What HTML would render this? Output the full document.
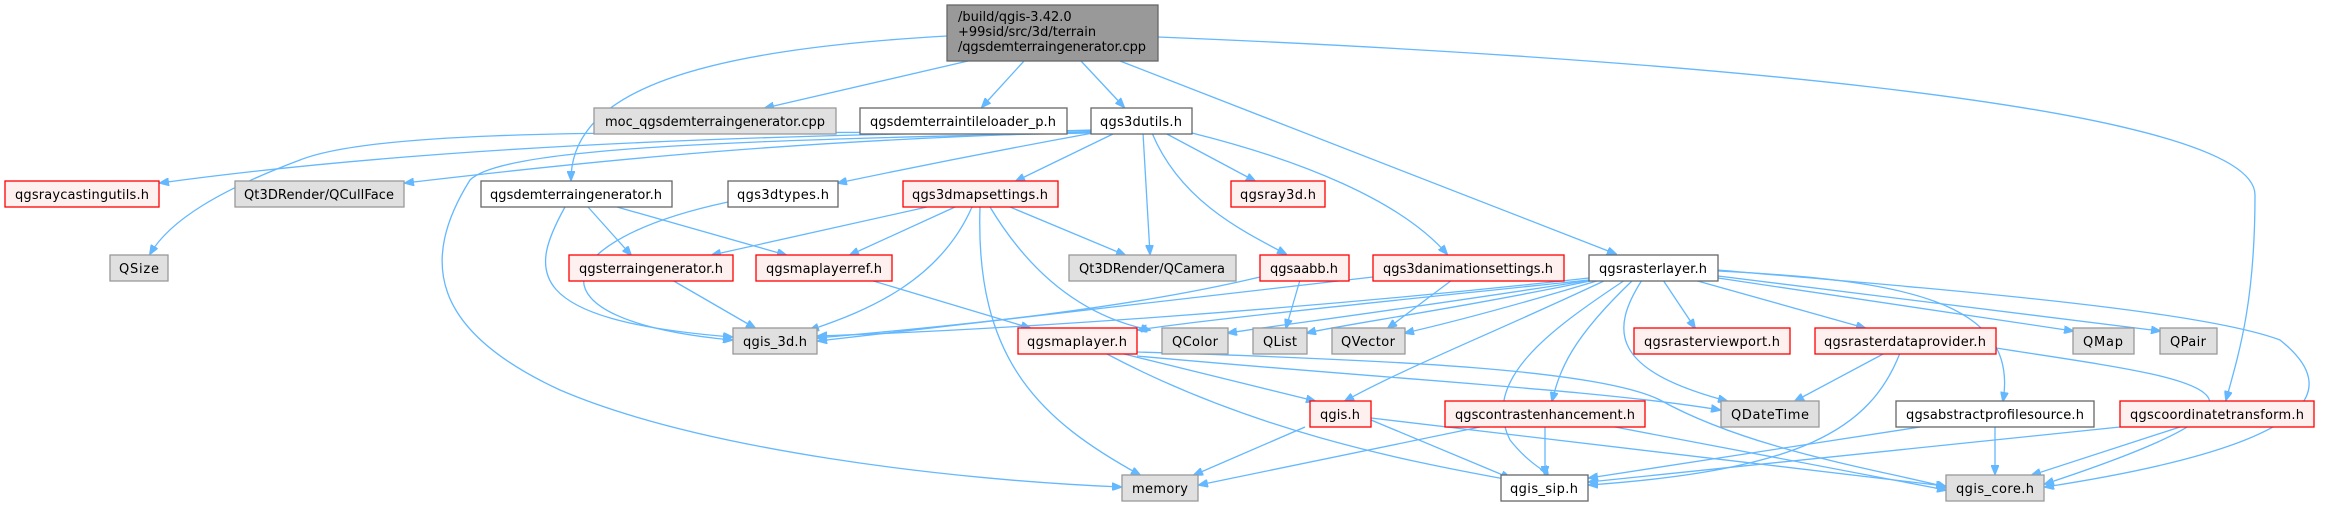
<!DOCTYPE html>
<html><head><meta charset="utf-8"><style>
html,body{margin:0;padding:0;background:#fff;}
svg{display:block;}
text{font-family:"DejaVu Sans","Liberation Sans",sans-serif;font-size:13px;fill:#000;}
.e{fill:none;stroke:#63b8ff;stroke-width:1.3;marker-end:url(#a);}
.r{fill:#fff0f0;stroke:#ff0000;stroke-width:1.3}
.g{fill:#e0e0e0;stroke:#999;stroke-width:1.3}
.w{fill:#fff;stroke:#666;stroke-width:1.3}
</style></head><body>
<svg width="2343" height="505" viewBox="0 0 2343 505" xmlns="http://www.w3.org/2000/svg">
<defs><marker id="a" markerWidth="10" markerHeight="8" refX="9" refY="4" orient="auto" markerUnits="userSpaceOnUse"><path d="M0,0 L10,4 L0,8 z" fill="#63b8ff" stroke="#63b8ff"/></marker></defs>
<g>
<path class="e" d="M947,36 C700,50 571,90 571,180"/>
<path class="e" d="M968,61 L765,108"/>
<path class="e" d="M1024,61 L982,107"/>
<path class="e" d="M1081,61 L1124,107"/>
<path class="e" d="M1120,61 L1616,254"/>
<path class="e" d="M1158,37 C1600,55 2255,100 2255,195 C2255,300 2240,350 2226,400"/>
<path class="e" d="M1091,131 C700,135 400,150 160,183"/>
<path class="e" d="M1091,132 C800,140 600,160 405,183"/>
<path class="e" d="M1091,130 C800,138 400,120 300,160 C220,190 170,220 150,254"/>
<path class="e" d="M1091,133 C700,140 500,150 470,180 C420,260 430,330 560,390 C700,450 950,480 1121,487"/>
<path class="e" d="M1093,133 C1000,150 900,170 838,183"/>
<path class="e" d="M1115,133 L1016,181"/>
<path class="e" d="M1143,133 L1150,254"/>
<path class="e" d="M1165,133 L1255,181"/>
<path class="e" d="M1152,133 C1180,200 1240,230 1286,254"/>
<path class="e" d="M1192,133 C1300,160 1400,200 1447,254"/>
<path class="e" d="M588,207 L631,255"/>
<path class="e" d="M617,207 L786,255"/>
<path class="e" d="M565,207 C530,270 520,320 732,337"/>
<path class="e" d="M728,202 C550,240 520,320 732,340"/>
<path class="e" d="M927,207 L712,255"/>
<path class="e" d="M955,207 L850,255"/>
<path class="e" d="M972,207 C940,280 870,310 810,330"/>
<path class="e" d="M980,207 C975,360 1040,420 1140,475"/>
<path class="e" d="M990,207 C1040,290 1100,320 1150,330"/>
<path class="e" d="M1010,207 L1125,255"/>
<path class="e" d="M672,280 L755,328"/>
<path class="e" d="M870,280 L1030,328"/>
<path class="e" d="M1260,277 C1100,315 900,330 818,338"/>
<path class="e" d="M1300,280 L1286,328"/>
<path class="e" d="M1373,277 C1100,310 900,330 818,341"/>
<path class="e" d="M1452,280 L1388,328"/>
<path class="e" d="M1120,353 L1315,401"/>
<path class="e" d="M1105,353 C1250,430 1400,460 1510,480"/>
<path class="e" d="M1137,352 C1400,360 1600,370 1660,400 C1750,450 1880,470 1946,487"/>
<path class="e" d="M1137,356 C1400,380 1600,390 1720,410"/>
<path class="e" d="M1305,427 L1194,475"/>
<path class="e" d="M1371,420 L1510,478"/>
<path class="e" d="M1371,418 L1945,486"/>
<path class="e" d="M1480,427 L1199,485"/>
<path class="e" d="M1545,427 L1545,475"/>
<path class="e" d="M1615,427 L1946,490"/>
<path class="e" d="M1589,278 C1300,310 1000,330 818,336"/>
<path class="e" d="M1589,280 C1400,300 1200,320 1138,330"/>
<path class="e" d="M1592,280 C1400,310 1280,325 1228,333"/>
<path class="e" d="M1595,280 C1450,310 1340,325 1307,333"/>
<path class="e" d="M1600,280 C1500,310 1440,325 1405,333"/>
<path class="e" d="M1606,280 C1500,330 1400,370 1345,401"/>
<path class="e" d="M1633,280 C1570,340 1560,370 1552,401"/>
<path class="e" d="M1625,280 C1550,330 1480,380 1510,440 C1530,465 1545,470 1548,475"/>
<path class="e" d="M1642,280 C1610,330 1610,370 1727,401"/>
<path class="e" d="M1663,280 L1695,328"/>
<path class="e" d="M1694,280 L1865,328"/>
<path class="e" d="M1718,278 L2073,331"/>
<path class="e" d="M1718,276 L2160,331"/>
<path class="e" d="M1718,271 C1900,280 2020,300 2003,401"/>
<path class="e" d="M1718,270 C1950,290 2200,310 2280,340 C2330,380 2350,440 2045,487"/>
<path class="e" d="M1885,353 L1795,401"/>
<path class="e" d="M1900,353 C1870,430 1800,470 1589,485"/>
<path class="e" d="M1996,348 C2200,380 2330,390 2045,484"/>
<path class="e" d="M1920,427 L1589,478"/>
<path class="e" d="M1995,427 L1995,474"/>
<path class="e" d="M2120,427 L1589,482"/>
<path class="e" d="M2180,427 L2032,475"/>
</g>
<rect x="947" y="5" width="211" height="56" fill="#999" stroke="#666" stroke-width="1.3"/>
<text x="958" y="21">/build/qgis-3.42.0</text>
<text x="958" y="36">+99sid/src/3d/terrain</text>
<text x="958" y="51" textLength="188">/qgsdemterraingenerator.cpp</text>
<g text-anchor="middle">
<rect class="g" x="594" y="108" width="242" height="26"/><text x="715" y="126" textLength="220">moc_qgsdemterraingenerator.cpp</text>
<rect class="w" x="860" y="108" width="207" height="26"/><text x="963" y="126" textLength="186">qgsdemterraintileloader_p.h</text>
<rect class="w" x="1091" y="108" width="101" height="26"/><text x="1141" y="126" textLength="82">qgs3dutils.h</text>
<rect class="r" x="5" y="181" width="154" height="26"/><text x="82" y="199" textLength="134">qgsraycastingutils.h</text>
<rect class="g" x="235" y="181" width="169" height="26"/><text x="319" y="199" textLength="150">Qt3DRender/QCullFace</text>
<rect class="w" x="481" y="181" width="191" height="26"/><text x="576" y="199" textLength="172">qgsdemterraingenerator.h</text>
<rect class="w" x="728" y="181" width="110" height="26"/><text x="783" y="199" textLength="92">qgs3dtypes.h</text>
<rect class="r" x="903" y="181" width="155" height="26"/><text x="980" y="199" textLength="136">qgs3dmapsettings.h</text>
<rect class="r" x="1231" y="181" width="94" height="26"/><text x="1278" y="199" textLength="76">qgsray3d.h</text>
<rect class="g" x="110" y="255" width="58" height="26"/><text x="139" y="273" textLength="40">QSize</text>
<rect class="r" x="569" y="255" width="164" height="26"/><text x="651" y="273" textLength="144">qgsterraingenerator.h</text>
<rect class="r" x="756" y="255" width="136" height="26"/><text x="824" y="273" textLength="116">qgsmaplayerref.h</text>
<rect class="g" x="1069" y="255" width="167" height="26"/><text x="1152" y="273" textLength="146">Qt3DRender/QCamera</text>
<rect class="r" x="1260" y="255" width="89" height="26"/><text x="1304" y="273" textLength="68">qgsaabb.h</text>
<rect class="r" x="1373" y="255" width="191" height="26"/><text x="1468" y="273" textLength="170">qgs3danimationsettings.h</text>
<rect class="w" x="1589" y="255" width="129" height="26"/><text x="1653" y="273" textLength="108">qgsrasterlayer.h</text>
<rect class="g" x="733" y="328" width="84" height="26"/><text x="775" y="346" textLength="64">qgis_3d.h</text>
<rect class="r" x="1018" y="328" width="119" height="26"/><text x="1077" y="346" textLength="100">qgsmaplayer.h</text>
<rect class="g" x="1162" y="328" width="66" height="26"/><text x="1195" y="346" textLength="46">QColor</text>
<rect class="g" x="1253" y="328" width="54" height="26"/><text x="1280" y="346" textLength="34">QList</text>
<rect class="g" x="1332" y="328" width="73" height="26"/><text x="1368" y="346" textLength="54">QVector</text>
<rect class="r" x="1634" y="328" width="156" height="26"/><text x="1712" y="346" textLength="136">qgsrasterviewport.h</text>
<rect class="r" x="1815" y="328" width="181" height="26"/><text x="1905" y="346" textLength="162">qgsrasterdataprovider.h</text>
<rect class="g" x="2073" y="328" width="61" height="26"/><text x="2103" y="346" textLength="40">QMap</text>
<rect class="g" x="2160" y="328" width="57" height="26"/><text x="2188" y="346" textLength="36">QPair</text>
<rect class="r" x="1310" y="401" width="61" height="26"/><text x="1340" y="419" textLength="40">qgis.h</text>
<rect class="r" x="1445" y="401" width="200" height="26"/><text x="1545" y="419" textLength="180">qgscontrastenhancement.h</text>
<rect class="g" x="1721" y="401" width="98" height="26"/><text x="1770" y="419" textLength="78">QDateTime</text>
<rect class="w" x="1896" y="401" width="198" height="26"/><text x="1995" y="419" textLength="178">qgsabstractprofilesource.h</text>
<rect class="r" x="2120" y="401" width="194" height="26"/><text x="2217" y="419" textLength="174">qgscoordinatetransform.h</text>
<rect class="g" x="1122" y="475" width="76" height="26"/><text x="1160" y="493" textLength="56">memory</text>
<rect class="w" x="1501" y="475" width="87" height="26"/><text x="1544" y="493" textLength="68">qgis_sip.h</text>
<rect class="g" x="1946" y="475" width="98" height="26"/><text x="1995" y="493" textLength="78">qgis_core.h</text>
</g>
</svg>
</body></html>
